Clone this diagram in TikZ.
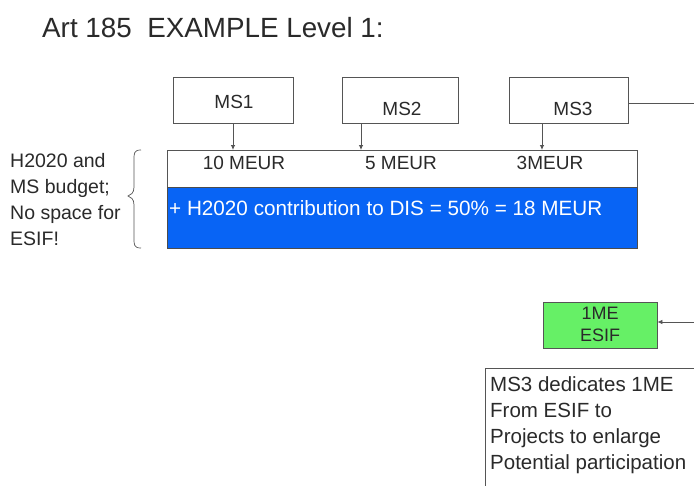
\documentclass[tikz,border=0pt]{standalone}
\usepackage{fontspec}
\setmainfont{Liberation Sans}
\usetikzlibrary{arrows.meta}
\definecolor{txt}{HTML}{2A2A2A}
\definecolor{ln}{HTML}{555555}
\definecolor{bluefill}{RGB}{8,100,245}
\definecolor{greenfill}{RGB}{102,240,102}
\tikzset{
  box/.style={draw=ln, line width=0.8pt, fill=white, inner sep=0pt},
  lbl/.style={text=txt, inner sep=0pt, font=\fontsize{19}{22}\selectfont},
  conn/.style={draw=ln, line width=0.8pt, -{Latex[length=5pt,width=4.5pt]}},
  plain/.style={draw=ln, line width=0.8pt}
}
\begin{document}
\begin{tikzpicture}[x=1pt,y=-1pt]
\useasboundingbox (0,0) rectangle (694,485);
\clip (0,0) rectangle (694,485);
\fill[white] (0,0) rectangle (694,485);

% title
\node[lbl, anchor=base west, font=\fontsize{27.8}{30}\selectfont] (title) at (42,37) {Art 185\ \ EXAMPLE Level 1:};

% MS boxes
\node[box, minimum width=120pt, minimum height=46pt] (ms1) at (233,100) {};
\node[box, minimum width=116pt, minimum height=46pt] (ms2) at (400,100) {};
\node[box, minimum width=119pt, minimum height=46pt] (ms3) at (568.5,100) {};
\node[lbl] (ms1t) at (234,102) {MS1};
\node[lbl] (ms2t) at (402,109) {MS2};
\node[lbl] (ms3t) at (573,109) {MS3};

% white and blue boxes
\node[box, draw=ln, anchor=north west, minimum width=470pt, minimum height=37pt] (wb) at (167,150) {};
\node[box, draw=black!70, fill=bluefill, anchor=north west, minimum width=470pt, minimum height=61pt] (bb) at (167,187) {};
\node[lbl] (m1) at (244,163) {10 MEUR};
\node[lbl] (m2) at (401,163) {5 MEUR};
\node[lbl] (m3) at (550,163) {3MEUR};
\node[lbl, text=white, anchor=base west, font=\fontsize{20.7}{24}\selectfont] (bt) at (169,215) {+ H2020 contribution to DIS = 50\% = 18 MEUR};

% arrows from MS boxes
\draw[conn] (ms1.south -| 233,0) -- (wb.north -| 233,0);
\draw[conn] (ms2.south -| 361,0) -- (wb.north -| 361,0);
\draw[conn] (ms3.south -| 542,0) -- (wb.north -| 542,0);

% left note and brace
\node[lbl, anchor=north west, align=left, font=\fontsize{19.5}{26}\selectfont] (note) at (10,153) {H2020 and\\MS budget;\\No space for\\ESIF!};
\draw[plain, line width=0.7pt] (141,150) .. controls (134,150) and (134,153) .. (134,160) -- (134,187)
  .. controls (134,193) and (131,195) .. (128,196)
  .. controls (131,197) and (134,199) .. (134,205) -- (134,238)
  .. controls (134,245) and (134,248) .. (141,248);

% green box
\node[box, fill=greenfill, minimum width=114pt, minimum height=46pt] (g) at (600,325) {};
\node[lbl, align=center, font=\fontsize{18}{22}\selectfont] (gt) at (600,324) {1ME\\ESIF};

% connectors on the right
\coordinate (r1) at (696,103);
\coordinate (r2) at (696,322);
\draw[plain] (ms3.east |- 0,103) -- (r1);
\draw[conn] (r2) -- (g.east |- r2);

% text box
\node[box, anchor=north west, minimum width=240pt, minimum height=140pt] (tb) at (485,368) {};
\node[lbl, anchor=north west, align=left, font=\fontsize{20.5}{26}\selectfont] (tbt) at (490,376) {MS3 dedicates 1ME\\From ESIF to\\Projects to enlarge\\Potential participation};
\end{tikzpicture}
\end{document}
